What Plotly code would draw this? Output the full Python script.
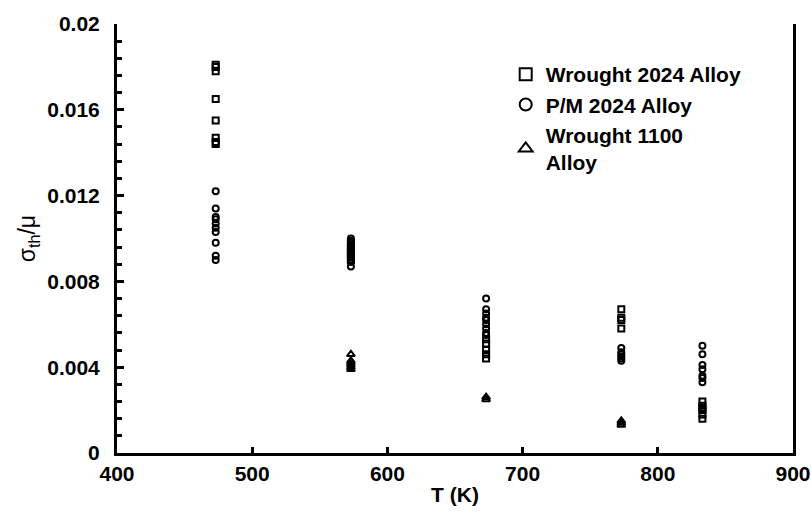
import plotly.graph_objects as go

# Normalised threshold stress sigma_th/mu versus temperature for three alloys
wrought2024_T = [473] * 8 + [573] * 6 + [673] * 5 + [773] * 4 + [833] * 6
wrought2024_s = [0.0181, 0.0180, 0.0178, 0.0165, 0.0155, 0.0147, 0.0145, 0.0144,
                 0.0098, 0.0096, 0.0094, 0.0093, 0.0091, 0.0090,
                 0.0053, 0.0051, 0.0048, 0.0046, 0.0044,
                 0.0067, 0.0063, 0.0062, 0.0058,
                 0.0024, 0.0022, 0.0021, 0.0020, 0.0018, 0.0016]

pm2024_T = [473] * 10 + [573] * 10 + [673] * 9 + [773] * 6 + [833] * 7
pm2024_s = [0.0122, 0.0114, 0.0110, 0.0109, 0.0107, 0.0105, 0.0103, 0.0098, 0.0092, 0.0090,
            0.0100, 0.0099, 0.0097, 0.0096, 0.0095, 0.0093, 0.0092, 0.0090, 0.0089, 0.0087,
            0.0072, 0.0067, 0.0065, 0.0063, 0.0062, 0.0060, 0.0058, 0.0056, 0.0055,
            0.0049, 0.0047, 0.0046, 0.0045, 0.0044, 0.0043,
            0.0050, 0.0046, 0.0041, 0.0039, 0.0036, 0.0035, 0.0033]

wrought1100_T = [573] * 6 + [673] * 2 + [773] * 3
wrought1100_s = [0.0046, 0.0043, 0.0042, 0.0041, 0.0040, 0.0039,
                 0.0026, 0.0025,
                 0.0015, 0.0014, 0.0013]

x_ticks = [400, 500, 600, 700, 800, 900]
y_ticks = [0, 0.004, 0.008, 0.012, 0.016, 0.02]
y_labels = ["0", "0.004", "0.008", "0.012", "0.016", "0.02"]

fig = go.Figure()

series = [
    ("Wrought 2024 Alloy", wrought2024_T, wrought2024_s, "square-open", 6),
    ("P/M 2024 Alloy", pm2024_T, pm2024_s, "circle-open", 6),
    ("Wrought 1100<br>Alloy", wrought1100_T, wrought1100_s, "triangle-up-open", 7),
]
for name, xs, ys, sym, size in series:
    fig.add_trace(go.Scatter(
        x=xs, y=ys, mode="markers", name=name,
        marker=dict(symbol=sym, size=size, color="black",
                    line=dict(color="black", width=2)),
    ))

FONT = "Liberation Sans, Arial, sans-serif"
axis_font = dict(family=FONT, size=21, color="black", weight="bold")

fig.update_layout(
    width=812, height=529,
    margin=dict(l=117, r=19, t=17, b=76),
    paper_bgcolor="white", plot_bgcolor="white",
    showlegend=True,
    legend=dict(
        x=0.575, y=0.93, xanchor="left", yanchor="top",
        bgcolor="rgba(0,0,0,0)", borderwidth=0,
        font=dict(family=FONT, size=21, color="black", weight="bold"),
        itemsizing="constant", itemwidth=30,
    ),
    xaxis=dict(
        range=[400, 900], tickvals=x_ticks, ticktext=[str(v) for v in x_ticks],
        showgrid=False, zeroline=False, automargin=False,
        showline=True, linecolor="black", linewidth=3,
        ticks="inside", ticklen=6, tickwidth=2.5, tickcolor="black",
        tickfont=axis_font, ticklabeloverflow="allow",
        title=dict(text="T (K)", font=axis_font, standoff=4),
    ),
    yaxis=dict(
        range=[0, 0.02], tickvals=y_ticks, ticktext=y_labels,
        showgrid=False, zeroline=False,
        showline=True, linecolor="black", linewidth=3, mirror=True,
        ticks="inside", ticklen=7, tickwidth=2.5, tickcolor="black",
        minor=dict(dtick=0.0008, ticks="inside", ticklen=5, tickwidth=2.5,
                   tickcolor="black", showgrid=False),
        tickfont=axis_font, ticklabelstandoff=10,
        title=dict(text="σ<sub>th</sub>/μ",
                   font=dict(family=FONT, size=23, color="black"),
                   standoff=6),
    ),
)

fig.write_html("out.html")
